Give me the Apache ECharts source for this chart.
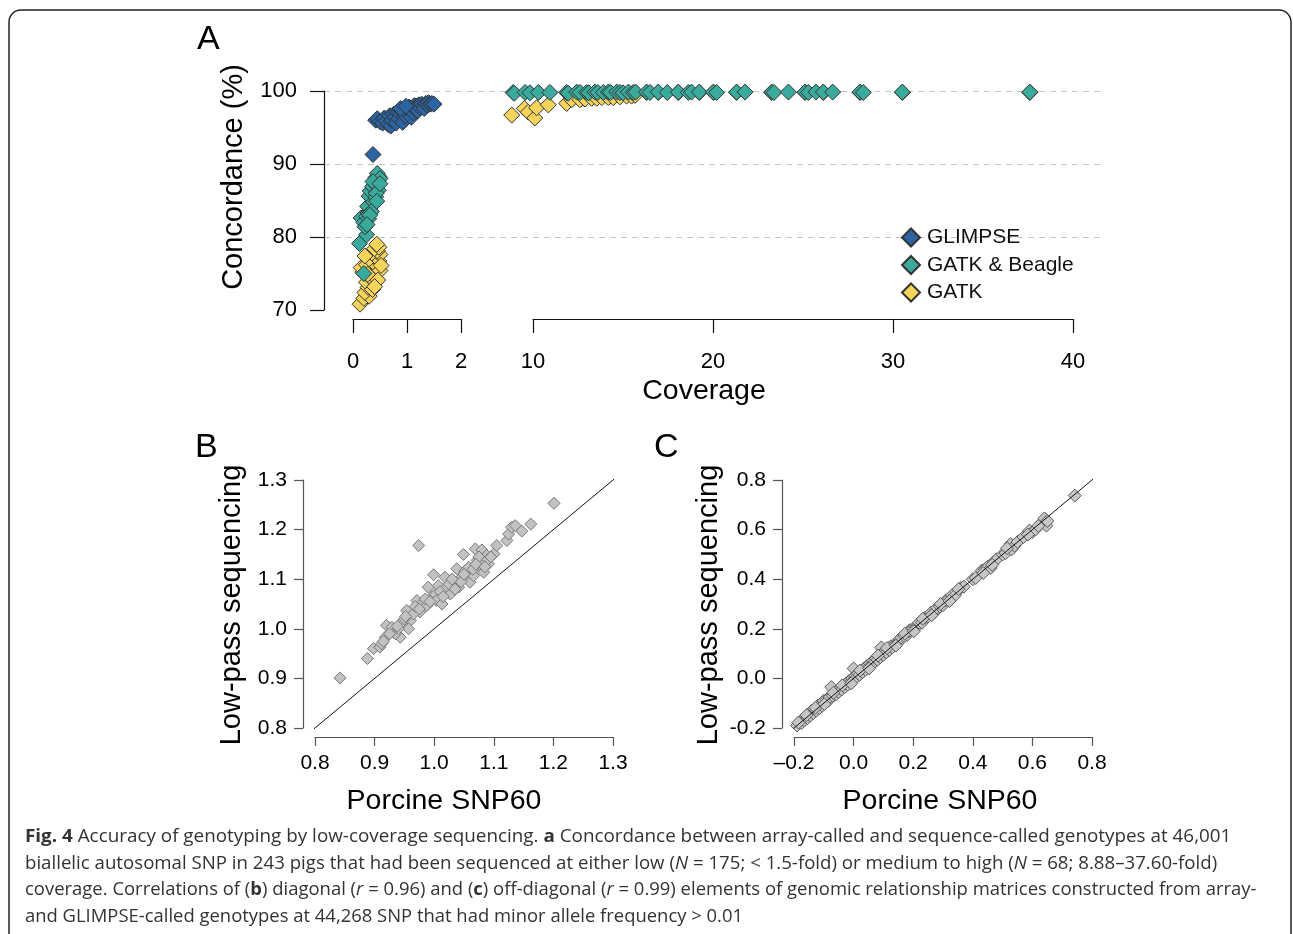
<!DOCTYPE html>
<html>
<head>
<meta charset="utf-8">
<script src="https://cdn.jsdelivr.net/npm/echarts@6/dist/echarts.min.js"></script>
<style>
  html, body { margin: 0; padding: 0; background: #fff; }
  #chart { width: 1293px; height: 934px; }
</style>
</head>
<body>
<div id="chart"></div>
<script>
  // panel A: [coverage, concordance %]
  const glimpseLow = [
    [0.37, 91.3], [0.42, 96.0], [0.45, 96.2], [0.5, 95.8], [0.55, 95.6], [0.58, 96.3], [0.62, 95.9],
    [0.65, 95.4], [0.68, 96.6], [0.7, 95.2], [0.72, 96.0], [0.75, 96.8], [0.78, 96.4], [0.8, 95.6],
    [0.83, 97.0], [0.85, 96.2], [0.88, 96.9], [0.9, 97.3], [0.92, 95.7], [0.95, 97.5], [0.97, 96.6],
    [1.0, 97.6], [1.02, 96.9], [1.04, 97.8], [1.06, 97.2], [1.08, 96.4], [1.1, 97.7], [1.12, 97.0],
    [1.14, 98.0], [1.16, 97.5], [1.18, 97.9], [1.2, 97.3], [1.22, 98.1], [1.25, 97.7], [1.27, 98.2],
    [1.3, 98.0], [1.32, 97.6], [1.35, 98.3], [1.38, 98.1], [1.4, 98.4], [1.43, 98.2], [1.46, 98.3],
    [1.5, 98.2], [0.88, 97.6], [0.98, 97.9]
  ]
  const beagleLow = [
    [0.2, 75.0], [0.12, 79.1], [0.25, 80.3], [0.15, 82.6], [0.2, 82.0], [0.22, 81.4], [0.28, 83.3],
    [0.25, 82.8], [0.3, 84.0], [0.33, 84.6], [0.27, 84.2], [0.35, 85.2], [0.3, 85.6], [0.38, 85.9],
    [0.32, 86.3], [0.4, 86.6], [0.36, 86.9], [0.44, 87.1], [0.4, 87.5], [0.46, 87.8], [0.42, 88.1],
    [0.48, 88.3], [0.45, 88.7], [0.5, 88.0], [0.38, 84.8], [0.42, 85.5], [0.34, 83.5], [0.29, 82.5],
    [0.47, 86.4], [0.37, 87.6], [0.43, 86.0], [0.31, 83.0], [0.26, 81.7], [0.5, 87.3], [0.44, 84.9]
  ]
  const beagleHigh = [
    [8.9, 99.8], [8.96, 99.7], [9.56, 99.8], [9.83, 99.75], [10.3, 99.8], [10.94, 99.8], [11.87, 99.8],
    [11.95, 99.7], [12.43, 99.85], [12.61, 99.8], [12.98, 99.8], [13.1, 99.75], [13.44, 99.85], [13.6, 99.8],
    [13.91, 99.8], [14.19, 99.85], [14.3, 99.8], [14.65, 99.85], [14.83, 99.8], [15.0, 99.75], [15.3, 99.85],
    [15.57, 99.8], [15.7, 99.85], [16.31, 99.85], [16.5, 99.8], [16.96, 99.85], [17.46, 99.8], [18.07, 99.85],
    [18.63, 99.8], [18.81, 99.85], [19.24, 99.85], [20.02, 99.85], [20.2, 99.8], [21.31, 99.85], [21.78, 99.85],
    [23.26, 99.85], [23.39, 99.8], [24.19, 99.85], [25.11, 99.85], [25.3, 99.8], [25.72, 99.85], [26.13, 99.85],
    [26.65, 99.85], [28.17, 99.85], [28.35, 99.8], [30.52, 99.85], [37.6, 99.85]
  ]
  const gatkLow = [
    [0.13, 70.8], [0.2, 71.6], [0.3, 71.9], [0.22, 72.4], [0.28, 73.1], [0.35, 73.5], [0.25, 73.8],
    [0.38, 74.2], [0.3, 74.6], [0.18, 75.2], [0.41, 75.0], [0.15, 75.8], [0.33, 75.5], [0.45, 75.9],
    [0.25, 76.2], [0.38, 76.5], [0.48, 76.7], [0.3, 77.0], [0.42, 77.3], [0.5, 77.6], [0.35, 77.8],
    [0.45, 78.1], [0.4, 78.4], [0.48, 78.6], [0.44, 79.0], [0.5, 75.4], [0.36, 72.8], [0.46, 74.1],
    [0.27, 74.9], [0.22, 77.4], [0.52, 76.1], [0.4, 73.2]
  ]
  const gatkHigh = [
    [8.82, 96.7], [9.52, 97.6], [9.74, 97.1], [10.1, 96.3], [10.2, 97.7], [10.85, 98.1], [11.87, 98.3],
    [12.15, 98.8], [12.61, 98.8], [12.89, 98.9], [13.26, 99.0], [13.54, 99.0], [13.82, 99.1], [14.19, 99.1],
    [14.46, 99.1], [14.83, 99.2], [15.2, 99.3], [15.48, 99.3], [15.67, 99.4], [16.31, 99.8], [16.96, 99.8],
    [18.07, 99.8], [19.24, 99.8], [20.02, 99.8], [21.31, 99.8], [23.26, 99.8], [25.11, 99.8], [26.13, 99.8],
    [28.17, 99.8], [30.52, 99.8], [37.6, 99.8]
  ]
  const coverageTicksLow = [0, 2, 1]     // min, max, interval
  const coverageTicksHigh = [10, 40, 10]
  const concordanceTicks = [70, 100, 10]

  // panel B: diagonal elements [array, sequence]
  const diagonal = [
    [0.842, 0.901], [0.888, 0.94], [0.898, 0.96], [0.909, 0.963], [0.912, 0.97], [0.92, 1.007], [0.918, 0.983],
    [0.932, 0.993], [0.929, 1.003], [0.943, 0.983], [0.946, 1.013], [0.954, 1.037], [0.96, 1.017], [0.957, 1.0],
    [0.971, 1.057], [0.974, 1.168], [0.976, 1.034], [0.979, 1.05], [0.988, 1.047], [0.99, 1.084], [0.996, 1.064],
    [0.999, 1.109], [1.002, 1.07], [1.004, 1.057], [1.007, 1.087], [1.013, 1.05], [1.018, 1.104], [1.021, 1.084],
    [1.027, 1.07], [1.032, 1.094], [1.038, 1.121], [1.041, 1.084], [1.046, 1.104], [1.049, 1.15], [1.052, 1.117],
    [1.055, 1.101], [1.058, 1.124], [1.06, 1.094], [1.066, 1.107], [1.069, 1.161], [1.072, 1.138], [1.077, 1.124],
    [1.08, 1.159], [1.083, 1.114], [1.086, 1.134], [1.088, 1.148], [1.091, 1.131], [1.1, 1.151], [1.105, 1.168],
    [1.122, 1.178], [1.125, 1.191], [1.13, 1.205], [1.136, 1.208], [1.147, 1.197], [1.162, 1.211], [1.201, 1.253],
    [0.935, 0.99], [0.94, 1.0], [0.95, 1.02], [0.965, 1.03], [0.968, 1.045], [0.985, 1.06], [1.01, 1.075],
    [1.025, 1.09], [1.035, 1.08], [1.045, 1.095], [1.065, 1.12], [1.075, 1.145], [1.09, 1.14],
    [0.915, 0.975], [0.925, 0.99], [0.938, 1.005], [0.952, 1.025], [0.975, 1.04], [0.993, 1.055], [1.015, 1.065],
    [1.03, 1.1], [1.05, 1.11], [1.07, 1.13], [1.085, 1.125], [1.095, 1.145]
  ]
  const diagonalTicks = [0.8, 1.3, 0.1]

  // panel C: off-diagonal elements [array, sequence]
  const offDiagonal = [
    [-0.19, -0.19], [-0.18, -0.175], [-0.175, -0.18], [-0.17, -0.165], [-0.165, -0.17], [-0.16, -0.155],
    [-0.155, -0.16], [-0.15, -0.145], [-0.145, -0.15], [-0.14, -0.13], [-0.135, -0.14], [-0.13, -0.125],
    [-0.125, -0.13], [-0.12, -0.11], [-0.115, -0.12], [-0.11, -0.105], [-0.105, -0.11], [-0.1, -0.09],
    [-0.095, -0.1], [-0.09, -0.085], [-0.085, -0.09], [-0.08, -0.075], [-0.075, -0.035], [-0.07, -0.07],
    [-0.065, -0.06], [-0.06, -0.065], [-0.055, -0.05], [-0.05, -0.055], [-0.045, -0.04], [-0.04, -0.045],
    [-0.035, -0.03], [-0.03, -0.035], [-0.025, -0.02], [-0.02, -0.025], [-0.015, -0.01], [-0.01, -0.015],
    [-0.005, 0.0], [0.0, -0.005], [0.0, 0.04], [0.005, 0.01], [0.01, 0.005], [0.015, 0.02], [0.02, 0.015],
    [0.025, 0.03], [0.03, 0.025], [0.035, 0.04], [0.04, 0.035], [0.045, 0.05], [0.05, 0.045], [0.055, 0.06],
    [0.06, 0.055], [0.065, 0.07], [0.07, 0.065], [0.075, 0.08], [0.08, 0.075], [0.085, 0.09], [0.09, 0.085],
    [0.093, 0.125], [0.095, 0.1], [0.1, 0.095], [0.105, 0.11], [0.11, 0.105], [0.115, 0.12], [0.12, 0.115],
    [0.125, 0.13], [0.13, 0.125], [0.14, 0.14], [0.15, 0.145], [0.155, 0.16], [0.16, 0.165], [0.17, 0.17],
    [0.18, 0.175], [0.185, 0.19], [0.19, 0.195], [0.2, 0.2], [0.21, 0.205], [0.22, 0.225], [0.23, 0.225],
    [0.24, 0.245], [0.25, 0.25], [0.26, 0.265], [0.27, 0.265], [0.28, 0.285], [0.29, 0.29], [0.3, 0.295],
    [0.31, 0.315], [0.32, 0.32], [0.33, 0.335], [0.34, 0.335], [0.36, 0.365], [0.37, 0.37], [0.4, 0.4],
    [0.41, 0.405], [0.43, 0.435], [0.44, 0.44], [0.45, 0.45], [0.46, 0.445], [0.47, 0.47], [0.48, 0.48],
    [0.5, 0.5], [0.51, 0.505], [0.527, 0.542], [0.53, 0.52], [0.54, 0.535], [0.55, 0.55], [0.57, 0.57],
    [0.59, 0.596], [0.6, 0.59], [0.61, 0.6], [0.63, 0.625], [0.641, 0.639], [0.647, 0.616], [0.64, 0.645],
    [0.742, 0.737],
    [-0.185, -0.178], [-0.158, -0.148], [-0.128, -0.118], [-0.098, -0.104], [-0.068, -0.058], [-0.038, -0.028],
    [-0.008, -0.02], [0.022, 0.032], [0.052, 0.04], [0.082, 0.092], [0.112, 0.122], [0.142, 0.132], [0.172, 0.18],
    [0.202, 0.19], [0.232, 0.24], [0.262, 0.255], [0.292, 0.3], [0.322, 0.312], [0.352, 0.36], [0.435, 0.425],
    [0.465, 0.458], [0.515, 0.525], [0.585, 0.58], [0.62, 0.615], [0.65, 0.635]
  ]
  const offDiagonalTicks = [-0.2, 0.8, 0.2]

  // y = x reference lines (ends run a little past the axes, like the original)
  const diagLineB = [[0.78, 0.78], [1.322, 1.322]]
  const diagLineC = [[-0.24, -0.24], [0.84, 0.84]]

  const captionLines = [
    '{b|Fig. 4} Accuracy of genotyping by low-coverage sequencing. {b|a} Concordance between array-called and sequence-called genotypes at 46,001',
    'biallelic autosomal SNP in 243 pigs that had been sequenced at either low ({i|N} = 175; < 1.5-fold) or medium to high ({i|N} = 68; 8.88–37.60-fold)',
    'coverage. Correlations of ({b|b}) diagonal ({i|r} = 0.96) and ({b|c}) off-diagonal ({i|r} = 0.99) elements of genomic relationship matrices constructed from array-',
    'and GLIMPSE-called genotypes at 44,268 SNP that had minor allele frequency > 0.01'
  ]
  const captionWidths = [1203, 1194, 1231, 718]

  const FONT = '"Liberation Sans", Arial, Helvetica, sans-serif'
  const CAP_FONT = '"Open Sans", sans-serif'
  const colors = {glimpse: '#2b64a1', beagle: '#3aaa9c', gatk: '#f6d45c'}

  // caption is a condensed face in the original, squeeze open sans to the same width
  const measure = document.createElement('canvas').getContext('2d')
  measure.font = '18px ' + CAP_FONT
  function captionScale (line, target) {
    const plain = line.replace(/\{[a-z]\|([^}]*)\}/g, '$1')
    return target / measure.measureText(plain).width
  }

  function axisStyle (color, tickLen) {
    return {
      axisLine: {show: true, onZero: false, lineStyle: {color: color, width: 1.2}},
      axisTick: {show: true, length: tickLen, lineStyle: {color: color, width: 1.2}},
      splitLine: {show: false}
    }
  }

  function pointSeries (name, data, idx, color, size, border) {
    return {
      name: name,
      type: 'scatter',
      xAxisIndex: idx,
      yAxisIndex: idx,
      clip: false,
      symbol: 'diamond',
      symbolSize: size,
      itemStyle: {color: color, borderColor: border, borderWidth: 1, opacity: 1},
      emphasis: {disabled: true},
      data: data
    }
  }

  function refLine (data, idx) {
    return {
      type: 'line',
      xAxisIndex: idx,
      yAxisIndex: idx,
      clip: false,
      symbol: 'none',
      silent: true,
      lineStyle: {color: '#111', width: 1},
      data: data
    }
  }

  const chart = echarts.init(document.getElementById('chart'), null, {renderer: 'canvas'})

  const graphics = [
    {type: 'rect', shape: {x: 9, y: 10, width: 1282, height: 1000, r: 12}, style: {fill: 'none', stroke: '#222', lineWidth: 1.5}},
    {type: 'text', x: 197, y: 40, style: {text: 'A', fontSize: 34, fontFamily: FONT, fill: '#000', verticalAlign: 'middle'}},
    {type: 'text', x: 195, y: 448, style: {text: 'B', fontSize: 34, fontFamily: FONT, fill: '#000', verticalAlign: 'middle'}},
    {type: 'text', x: 654, y: 448, style: {text: 'C', fontSize: 34, fontFamily: FONT, fill: '#000', verticalAlign: 'middle'}},
    {type: 'text', x: 234, y: 177, rotation: Math.PI / 2, style: {text: 'Concordance (%)', fontSize: 29, fontFamily: FONT, fill: '#000', align: 'center', verticalAlign: 'middle'}},
    {type: 'text', x: 704, y: 391, style: {text: 'Coverage', fontSize: 28.5, fontFamily: FONT, fill: '#000', align: 'center', verticalAlign: 'middle'}},
    {type: 'text', x: 232, y: 605, rotation: Math.PI / 2, style: {text: 'Low-pass sequencing', fontSize: 29, fontFamily: FONT, fill: '#000', align: 'center', verticalAlign: 'middle'}},
    {type: 'text', x: 444, y: 801, style: {text: 'Porcine SNP60', fontSize: 28.5, fontFamily: FONT, fill: '#000', align: 'center', verticalAlign: 'middle'}},
    {type: 'text', x: 709, y: 605, rotation: Math.PI / 2, style: {text: 'Low-pass sequencing', fontSize: 29, fontFamily: FONT, fill: '#000', align: 'center', verticalAlign: 'middle'}},
    {type: 'text', x: 940, y: 801, style: {text: 'Porcine SNP60', fontSize: 28.5, fontFamily: FONT, fill: '#000', align: 'center', verticalAlign: 'middle'}}
  ]
  const captionY = [837, 864, 890, 917]
  captionLines.forEach((line, i) => {
    graphics.push({
      type: 'text',
      x: 25,
      y: captionY[i],
      scaleX: captionScale(line, captionWidths[i]),
      style: {
        text: line,
        fontSize: 18,
        fontFamily: CAP_FONT,
        fill: '#333',
        verticalAlign: 'middle',
        rich: {
          b: {fontSize: 18, fontFamily: CAP_FONT, fontWeight: 'bold', fill: '#333'},
          i: {fontSize: 18, fontFamily: CAP_FONT, fontStyle: 'italic', fill: '#333'}
        }
      }
    })
  })

  const tickLabelA = {fontSize: 22, fontFamily: FONT, color: '#000'}
  const tickLabelBC = {fontSize: 21, fontFamily: FONT, color: '#000'}

  let option = {
    animation: false,
    backgroundColor: '#fff',
    grid: [
      {left: 353, top: 91, width: 108, height: 219, outerBoundsMode: 'none'},
      {left: 533, top: 91, width: 540, height: 219, outerBoundsMode: 'none'},
      {left: 324, top: 91, width: 776, height: 219, outerBoundsMode: 'none'},
      {left: 315, top: 480, width: 298, height: 248, outerBoundsMode: 'none'},
      {left: 794, top: 480, width: 298, height: 248, outerBoundsMode: 'none'}
    ],
    xAxis: [
      Object.assign({
        type: 'value', gridIndex: 0, min: coverageTicksLow[0], max: coverageTicksLow[1], interval: coverageTicksLow[2],
        offset: 9, axisLabel: Object.assign({margin: 32}, tickLabelA)
      }, axisStyle('#111', 14)),
      Object.assign({
        type: 'value', gridIndex: 1, min: coverageTicksHigh[0], max: coverageTicksHigh[1], interval: coverageTicksHigh[2],
        offset: 9, axisLabel: Object.assign({margin: 32}, tickLabelA)
      }, axisStyle('#111', 14)),
      {type: 'value', gridIndex: 2, min: 0, max: 1, show: false},
      Object.assign({
        type: 'value', gridIndex: 3, min: diagonalTicks[0], max: diagonalTicks[1], interval: diagonalTicks[2],
        offset: 9, axisLabel: Object.assign({margin: 16, formatter: v => v.toFixed(1)}, tickLabelBC)
      }, axisStyle('#555', 9)),
      Object.assign({
        type: 'value', gridIndex: 4, min: offDiagonalTicks[0], max: offDiagonalTicks[1], interval: offDiagonalTicks[2],
        offset: 9,
        axisLabel: Object.assign({margin: 16, formatter: v => (v < 0 ? '\u2013' + Math.abs(v).toFixed(1) : v.toFixed(1))}, tickLabelBC)
      }, axisStyle('#555', 9))
    ],
    yAxis: [
      Object.assign({
        type: 'value', gridIndex: 0, min: concordanceTicks[0], max: concordanceTicks[1], interval: concordanceTicks[2],
        offset: 29, axisLabel: Object.assign({margin: 27}, tickLabelA)
      }, axisStyle('#111', 14)),
      {type: 'value', gridIndex: 1, min: concordanceTicks[0], max: concordanceTicks[1], show: false},
      {
        type: 'value', gridIndex: 2, min: concordanceTicks[0], max: concordanceTicks[1], interval: concordanceTicks[2],
        axisLine: {show: false}, axisTick: {show: false}, axisLabel: {show: false},
        splitLine: {show: true, showMinLine: false, lineStyle: {color: '#c4c4c4', type: [6, 5], width: 1.2}}
      },
      Object.assign({
        type: 'value', gridIndex: 3, min: diagonalTicks[0], max: diagonalTicks[1], interval: diagonalTicks[2],
        offset: 12, axisLabel: Object.assign({margin: 16, formatter: v => v.toFixed(1)}, tickLabelBC)
      }, axisStyle('#555', 9)),
      Object.assign({
        type: 'value', gridIndex: 4, min: offDiagonalTicks[0], max: offDiagonalTicks[1], interval: offDiagonalTicks[2],
        offset: 12, axisLabel: Object.assign({margin: 16, formatter: v => v.toFixed(1)}, tickLabelBC)
      }, axisStyle('#555', 9))
    ],
    legend: {
      data: ['GLIMPSE', 'GATK & Beagle', 'GATK'],
      orient: 'vertical',
      left: 896,
      top: 222,
      itemWidth: 18,
      itemHeight: 18,
      itemGap: 6.5,
      icon: 'diamond',
      selectedMode: false,
      textStyle: {fontSize: 21, fontFamily: FONT, color: '#111', lineHeight: 21, padding: [0, 0, 0, 2]}
    },
    series: [
      pointSeries('GATK', gatkLow, 0, colors.gatk, 16, '#333'),
      pointSeries('GATK', gatkHigh, 1, colors.gatk, 16, '#333'),
      pointSeries('GATK & Beagle', beagleLow, 0, colors.beagle, 16, '#333'),
      pointSeries('GATK & Beagle', beagleHigh, 1, colors.beagle, 16, '#333'),
      pointSeries('GLIMPSE', glimpseLow, 0, colors.glimpse, 16, '#333'),
      refLine(diagLineB, 3),
      pointSeries('B', diagonal, 3, '#c2c2c2', 12, '#777'),
      pointSeries('C', offDiagonal, 4, '#c6c6c6', 13, '#5a5a5a'),
      refLine(diagLineC, 4)
    ],
    graphic: graphics
  }

  chart.setOption(option)
</script>
</body>
</html>
